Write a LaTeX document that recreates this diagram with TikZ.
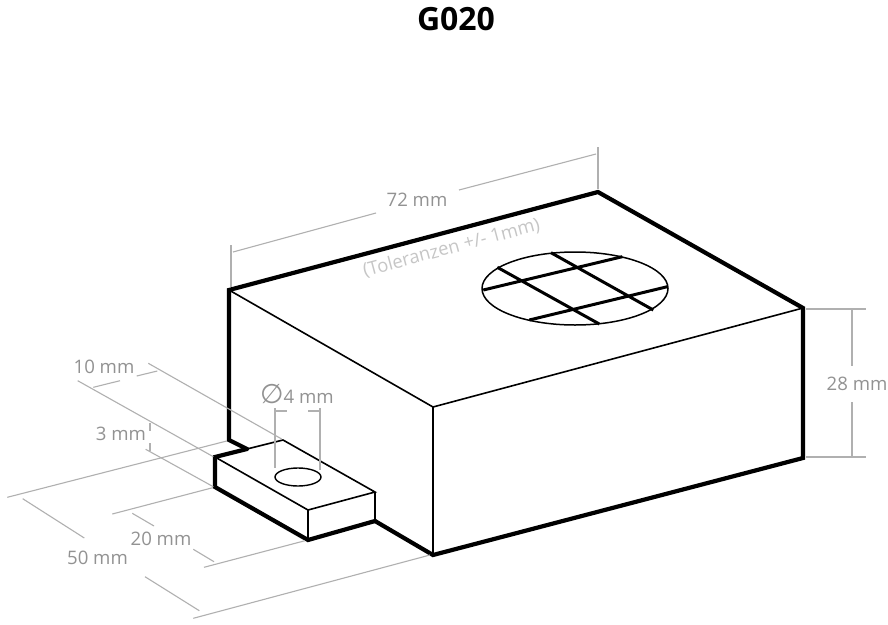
\documentclass[tikz,border=0pt]{standalone}
\usepackage{fontspec}
\setmainfont{Open Sans}
\newfontfamily\symfont{DejaVu Sans}
\definecolor{dimtext}{HTML}{929292}
\definecolor{dimline}{HTML}{B0B0B0}
\definecolor{toltext}{HTML}{C6C6C6}
\tikzset{
  outline/.style={line width=4.2pt,black,line join=miter,line cap=round},
  edge/.style={line width=1.6pt,black,line join=miter},
  gridline/.style={line width=3pt,black},
  dimln/.style={line width=1.1pt,dimline},
  dimlabel/.style={text=dimtext,font=\fontsize{18.6}{20}\selectfont,inner sep=0pt},
}
\begin{document}
\begin{tikzpicture}[x=1pt,y=-1pt]
\useasboundingbox (0,0) rectangle (888,624);
\fill[white] (0,0) rectangle (888,624);
% box corners
\coordinate (A) at (229,290);
\coordinate (B) at (598,192);
\coordinate (C) at (803,308);
\coordinate (D) at (433,407);
\coordinate (Cb) at (803,458);
\coordinate (Db) at (433,555);
\coordinate (Ab) at (229,440);
% tab corners
\coordinate (Ta) at (215,457);
\coordinate (Tb) at (283,440);
\coordinate (Tc) at (375,492);
\coordinate (Td) at (308,510);
\coordinate (Tab) at (215,487);
\coordinate (Tdb) at (308,540);
\coordinate (Tcb) at (375,521);
\coordinate (Tj) at (247,449);
% speaker
\coordinate (S) at (575,288.5);
\coordinate (H) at (298,477);
% box
\draw[edge] (A) -- (D) -- (C) (D) -- (Db);
\draw[outline] (Tj) -- (Ab) -- (A) -- (B) -- (C) -- (Cb) -- (Db) -- (Tcb);
% speaker grille
\draw[line width=1.5pt] (S) ellipse [x radius=93,y radius=36.5];
\coordinate (L1a) at (551,252.7); \coordinate (L1b) at (653.3,310);
\coordinate (L2a) at (497.3,267.3); \coordinate (L2b) at (599.3,324);
\coordinate (H1a) at (483.3,290); \coordinate (H1b) at (622.3,256.7);
\coordinate (H2a) at (529.3,320); \coordinate (H2b) at (667.3,286.7);
\draw[gridline] (L1a) -- (L1b) (L2a) -- (L2b) (H1a) -- (H1b) (H2a) -- (H2b);
% tab
\fill[white] (Ta) -- (Tb) -- (Tc) -- (Tcb) -- (Tdb) -- (Tab) -- cycle;
\draw[edge] (Ta) -- (Tb) -- (Tc) -- (Td) -- cycle;
\draw[edge] (Td) -- (Tdb) (Tc) -- (Tcb);
\draw[outline] (Tj) -- (Ta) -- (Tab) -- (Tdb) -- (Tcb);
\draw[line width=1.4pt] (H) ellipse [x radius=23,y radius=9];
% dimension lines
\coordinate (e72a) at (231,245); \coordinate (e72b) at (231,287);
\coordinate (e72c) at (598,147); \coordinate (e72d) at (598,189);
\draw[dimln] (e72a) -- (e72b) (e72c) -- (e72d);
\draw[dimln] (233,252) -- (376,213) (459,190) -- (596,154);
\draw[dimln] (806,309) -- (866,309) (806,457) -- (866,457);
\draw[dimln] (852,310) -- (852,366) (852,402) -- (852,456);
\draw[dimln] (148.3,363.3) -- (281.7,439) (77.7,380.7) -- (213.3,456.7);
\draw[dimln] (93.3,387.3) -- (120,380.7) (136.7,376) -- (157.3,371);
\draw[dimln] (150,423) -- (150,431) (150,443) -- (150,451);
\draw[dimln] (145.7,449.3) -- (213.3,486.7);
\draw[dimln] (7.3,497.3) -- (226.7,441);
\draw[dimln] (22.7,498.7) -- (84.3,538) (145,576.7) -- (199.3,610.7);
\draw[dimln] (193.3,618.3) -- (430,555);
\draw[dimln] (112.3,514) -- (212.7,487.7) (204,567.3) -- (305,540.7);
\draw[dimln] (132.3,513.3) -- (154,526) (193.3,549.3) -- (214,561.7);
\draw[dimln] (275,408) -- (275,468) (320,408) -- (320,470);
\draw[dimln] (275,411) -- (286.7,411) (308,411) -- (320,411);
% labels
\node[font=\fontsize{32}{34}\selectfont\bfseries,inner sep=0pt] (title) at (456,19) {G020};
\node[dimlabel] (l72) at (417,200) {72 mm};
\node[dimlabel] (l28) at (857,384) {28 mm};
\node[dimlabel] (l10) at (104,366.5) {10 mm};
\node[dimlabel] (l3) at (121,433.5) {3 mm};
\node[dimlabel] (l50) at (97.5,558) {50 mm};
\node[dimlabel] (l20) at (161,539) {20 mm};
\node[dimlabel] (l4) at (297,394.5) {{\symfont\fontsize{27}{27}\selectfont ∅}4 mm};
\node[text=toltext,font=\fontsize{18.4}{20}\selectfont,inner sep=0pt,rotate=15] (toltxt) at (451.5,248) {(Toleranzen +/- 1mm)};
\end{tikzpicture}
\end{document}
